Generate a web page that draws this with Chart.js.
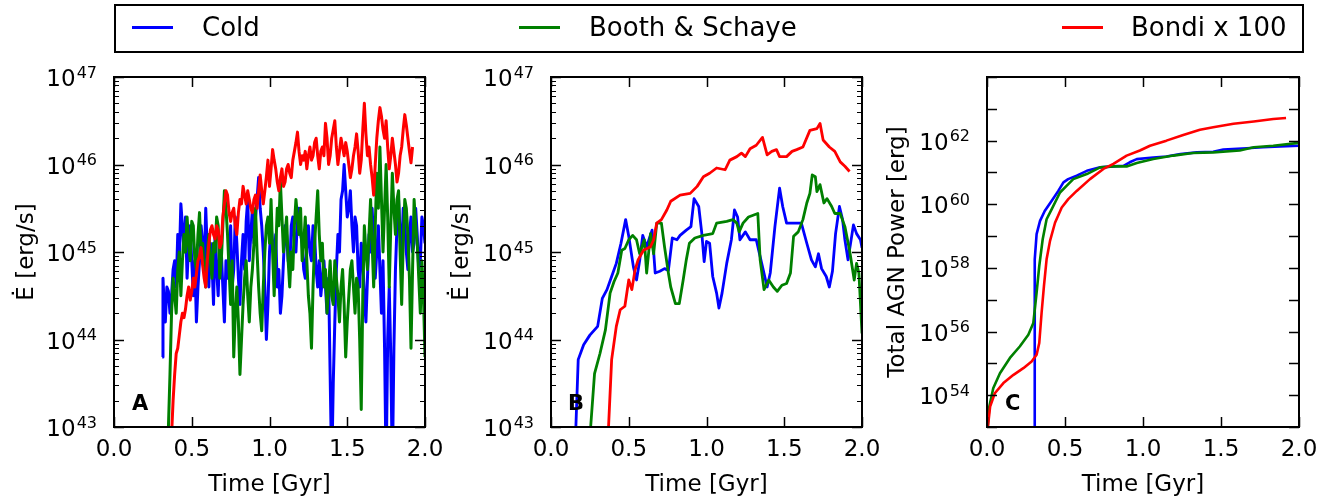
<!DOCTYPE html>
<html>
<head>
<meta charset="utf-8">
<script src="https://cdn.jsdelivr.net/npm/chart.js@4.4.0/dist/chart.umd.min.js"></script>
<style>
  body { margin: 0; background: #fff; width: 1332px; height: 497px; position: relative; overflow: hidden; font-family: "DejaVu Sans", sans-serif; }
  canvas { position: absolute; top: 0; }
  #legend { position: absolute; left: 114px; top: 4px; width: 1190px; height: 49px; border: 2px solid #000; box-sizing: border-box; }
  .sw { position: absolute; top: 26px; width: 41px; height: 3px; }
  .lt { position: absolute; top: 14px; font-size: 26px; line-height: 1; color: #000; white-space: nowrap; }
</style>
</head>
<body>
<div id="legend"></div>
<canvas id="cA" width="455" height="497" style="left:0px"></canvas>
<canvas id="cB" width="452" height="497" style="left:440px"></canvas>
<canvas id="cC" width="452" height="497" style="left:880px"></canvas>
<script>
const FONT = '"DejaVu Sans", sans-serif';

// legend / series
const seriesNames = ['Cold', 'Booth & Schaye', 'Bondi x 100'];
const seriesColors = ['#0000ff', '#008000', '#ff0000'];
const legendLineX = [132, 519, 1062];
const legendTextX = [202, 589, 1131];

// axes
const xTickVals = [0, 0.5, 1.0, 1.5, 2.0];
const yLabelExpE = [43, 44, 45, 46, 47];
const yLabelExpC = [54, 56, 58, 60, 62];
const panelLetters = ['A', 'B', 'C'];

// data: [time in Gyr, log10 value]
// panel A - E dot [erg/s]
const coldA = [[0.31,43.8],[0.315,44.7],[0.32,44.5],[0.33,44.2],[0.34,44.6],[0.35,44.55],[0.36,44.3],[0.37,44.5],[0.38,44.8],[0.39,44.9],
  [0.40,44.6],[0.41,45.2],[0.42,44.9],[0.43,45.55],[0.44,45.3],[0.45,45.0],[0.46,45.4],[0.47,44.7],[0.48,45.1],[0.49,45.3],
  [0.50,44.9],[0.51,44.5],[0.52,44.9],[0.53,44.2],[0.54,44.6],[0.55,44.9],[0.56,45.3],[0.57,45.1],[0.58,44.8],[0.59,45.5],
  [0.60,45.0],[0.61,44.6],[0.62,45.1],[0.63,44.9],[0.64,44.4],[0.65,45.2],[0.66,44.8],[0.67,44.5],[0.68,45.1],[0.69,45.0],
  [0.70,44.6],[0.71,44.2],[0.72,44.9],[0.73,44.7],[0.74,45.0],[0.75,45.3],[0.76,44.6],[0.77,44.8],[0.78,45.4],[0.79,45.1],
  [0.80,44.7],[0.81,44.4],[0.82,44.9],[0.83,45.2],[0.84,44.8],[0.85,45.35],[0.86,45.6],[0.87,44.9],[0.88,45.2],[0.89,45.5],
  [0.90,45.1],[0.91,45.4],[0.92,45.6],[0.93,45.85],[0.94,45.5],[0.95,45.3],[0.96,45.0],[0.97,44.6],[0.98,44.0],[0.99,44.4],
  [1.00,45.0],[1.01,45.3],[1.02,45.1],[1.03,44.9],[1.04,45.2],[1.05,44.6],[1.06,44.8],[1.07,44.3],[1.08,44.5],[1.09,44.9],
  [1.10,45.3],[1.11,45.2],[1.12,44.9],[1.13,44.8],[1.14,45.3],[1.15,45.4],[1.16,45.1],[1.17,45.0],[1.18,45.4],[1.19,45.5],
  [1.20,45.2],[1.21,45.1],[1.22,44.8],[1.23,44.7],[1.24,45.1],[1.25,45.3],[1.26,45.0],[1.27,44.9],[1.28,45.3],[1.29,45.2],
  [1.30,44.8],[1.31,44.6],[1.32,44.9],[1.33,44.5],[1.34,44.7],[1.35,44.9],[1.36,44.6],[1.37,44.3],[1.38,44.7],[1.39,43.6],
  [1.40,42.5],[1.41,43.5],[1.42,44.2],[1.43,44.8],[1.44,45.2],[1.45,45.0],[1.46,45.6],[1.47,45.7],[1.48,46.0],[1.49,45.7],
  [1.50,45.4],[1.51,45.5],[1.52,45.7],[1.53,45.3],[1.54,45.0],[1.55,45.4],[1.56,45.3],[1.57,44.8],[1.58,44.6],[1.59,45.1],
  [1.60,44.9],[1.61,44.5],[1.62,44.2],[1.63,44.7],[1.64,45.2],[1.65,45.0],[1.66,45.5],[1.67,45.1],[1.68,44.7],[1.69,45.0],
  [1.70,45.3],[1.71,44.8],[1.72,44.3],[1.73,44.9],[1.74,43.9],[1.75,42.5],[1.76,44.0],[1.77,44.6],[1.78,43.8],[1.79,42.5],
  [1.80,43.9],[1.81,44.8],[1.82,45.3],[1.83,45.6],[1.84,45.2],[1.85,45.0],[1.86,45.5],[1.87,45.35],[1.88,45.0],[1.89,44.8],
  [1.90,45.2],[1.91,45.4],[1.92,45.0],[1.93,45.1],[1.94,45.5],[1.95,45.2],[1.96,44.8],[1.97,44.9],[1.98,45.4],[1.99,45.3],[2.0,45.1]];
const boothA = [[0.34,42.5],[0.35,43.0],[0.36,43.6],[0.37,44.3],[0.38,44.7],[0.39,44.5],[0.40,44.3],[0.41,44.8],[0.42,45.0],[0.43,44.5],
  [0.44,44.9],[0.45,45.2],[0.46,45.0],[0.47,45.4],[0.48,45.1],[0.49,44.9],[0.50,45.35],[0.51,45.3],[0.52,44.9],[0.53,44.8],
  [0.54,45.2],[0.55,45.45],[0.56,45.0],[0.57,45.1],[0.58,44.8],[0.59,44.6],[0.60,45.0],[0.61,45.2],[0.62,44.9],[0.63,44.7],
  [0.64,45.1],[0.65,45.0],[0.66,45.4],[0.67,45.3],[0.68,44.7],[0.69,44.9],[0.70,45.3],[0.71,45.7],[0.72,45.5],[0.73,45.2],
  [0.74,44.8],[0.75,44.4],[0.76,44.9],[0.77,43.8],[0.78,44.3],[0.79,44.6],[0.80,44.2],[0.81,43.6],[0.82,44.0],[0.83,44.4],
  [0.84,44.7],[0.85,44.9],[0.86,44.5],[0.87,44.2],[0.88,44.6],[0.89,44.8],[0.90,45.1],[0.91,45.5],[0.92,45.0],[0.93,44.6],
  [0.94,44.3],[0.95,44.1],[0.96,44.6],[0.97,45.0],[0.98,45.3],[0.99,45.4],[1.00,45.1],[1.01,45.6],[1.02,45.0],[1.03,44.5],
  [1.04,45.0],[1.05,45.5],[1.06,45.3],[1.07,45.8],[1.08,45.4],[1.09,45.0],[1.10,45.2],[1.11,45.4],[1.12,44.9],[1.13,44.6],
  [1.14,45.0],[1.15,44.8],[1.16,45.3],[1.17,45.6],[1.18,45.4],[1.19,45.2],[1.20,45.5],[1.21,44.9],[1.22,45.1],[1.23,45.4],
  [1.24,44.9],[1.25,44.5],[1.26,44.3],[1.27,43.9],[1.28,44.6],[1.29,45.1],[1.30,45.4],[1.31,45.7],[1.32,45.2],[1.33,44.9],
  [1.34,45.1],[1.35,44.6],[1.36,44.8],[1.37,44.3],[1.38,44.6],[1.39,44.9],[1.40,44.5],[1.41,44.4],[1.42,44.9],[1.43,44.7],
  [1.44,44.5],[1.45,44.2],[1.46,44.6],[1.47,44.8],[1.48,44.4],[1.49,43.8],[1.50,44.2],[1.51,44.5],[1.52,44.8],[1.53,44.9],
  [1.54,44.6],[1.55,44.3],[1.56,44.7],[1.57,44.6],[1.58,44.0],[1.59,43.2],[1.60,44.5],[1.61,45.3],[1.62,45.0],[1.63,44.8],
  [1.64,45.2],[1.65,45.6],[1.66,45.1],[1.67,44.6],[1.68,45.3],[1.69,45.9],[1.70,45.5],[1.71,46.2],[1.72,45.6],[1.73,45.0],
  [1.74,45.5],[1.75,46.0],[1.76,45.4],[1.77,44.6],[1.78,45.3],[1.79,45.9],[1.80,45.5],[1.81,45.2],[1.82,45.6],[1.83,45.7],
  [1.84,45.0],[1.85,44.4],[1.86,45.1],[1.87,45.6],[1.88,45.5],[1.89,45.2],[1.90,44.7],[1.91,43.9],[1.92,44.8],[1.93,45.6],
  [1.94,45.3],[1.95,45.1],[1.96,44.7],[1.97,44.3],[1.98,44.9],[1.99,44.5],[2.0,43.8]];
const bondiA = [[0.37,42.9],[0.38,43.3],[0.39,43.6],[0.40,43.84],[0.41,43.9],[0.42,44.05],[0.43,44.2],[0.44,44.3],[0.45,44.25],[0.46,44.35],
  [0.47,44.5],[0.48,44.6],[0.49,44.45],[0.50,44.55],[0.51,44.7],[0.52,44.6],[0.53,44.75],[0.54,44.9],[0.55,44.95],[0.56,45.05],
  [0.57,44.85],[0.58,44.7],[0.59,44.6],[0.60,44.9],[0.61,45.1],[0.62,45.25],[0.63,45.3],[0.64,45.2],[0.65,45.15],[0.66,45.3],
  [0.67,45.25],[0.68,45.05],[0.69,45.1],[0.70,45.4],[0.71,45.55],[0.72,45.7],[0.73,45.65],[0.74,45.45],[0.75,45.35],[0.76,45.45],
  [0.77,45.5],[0.78,45.3],[0.79,45.2],[0.80,45.45],[0.81,45.6],[0.82,45.55],[0.83,45.75],[0.84,45.65],[0.85,45.55],[0.86,45.7],
  [0.87,45.6],[0.88,45.5],[0.89,45.45],[0.90,45.6],[0.91,45.65],[0.92,45.5],[0.93,45.7],[0.94,45.88],[0.95,45.7],[0.96,45.55],
  [0.97,45.7],[0.98,45.86],[0.99,46.05],[1.00,45.75],[1.01,45.95],[1.02,46.17],[1.03,46.05],[1.04,45.95],[1.05,45.8],[1.06,45.7],
  [1.07,45.85],[1.08,45.95],[1.09,45.75],[1.10,45.8],[1.11,45.95],[1.12,46.0],[1.13,45.9],[1.14,45.85],[1.15,46.05],[1.16,46.15],
  [1.17,46.25],[1.18,46.37],[1.19,46.15],[1.20,46.0],[1.21,46.1],[1.22,46.05],[1.23,46.15],[1.24,45.95],[1.25,46.1],[1.26,46.2],
  [1.27,46.05],[1.28,46.1],[1.29,46.25],[1.30,46.3],[1.31,46.1],[1.32,45.95],[1.33,46.15],[1.34,46.2],[1.35,46.1],[1.36,46.47],
  [1.37,46.3],[1.38,46.0],[1.39,46.1],[1.40,46.3],[1.41,46.4],[1.42,46.5],[1.43,46.2],[1.44,46.0],[1.45,46.15],[1.46,46.3],
  [1.47,46.2],[1.48,46.1],[1.49,46.25],[1.50,46.15],[1.51,46.0],[1.52,45.85],[1.53,45.95],[1.54,46.1],[1.55,46.2],[1.56,46.35],
  [1.57,46.15],[1.58,45.9],[1.59,46.05],[1.60,46.4],[1.61,46.7],[1.62,46.35],[1.63,46.1],[1.64,46.2],[1.65,46.0],[1.66,45.85],
  [1.67,45.65],[1.68,46.0],[1.69,46.3],[1.70,46.5],[1.71,46.65],[1.72,46.55],[1.73,46.4],[1.74,46.3],[1.75,46.5],[1.76,46.2],
  [1.77,45.95],[1.78,46.1],[1.79,46.3],[1.80,46.15],[1.81,46.0],[1.82,45.8],[1.83,45.9],[1.84,46.1],[1.85,46.2],[1.86,46.4],
  [1.87,46.57],[1.88,46.45],[1.89,46.3],[1.90,46.15],[1.91,46.02],[1.92,46.2]];

// panel B - E dot [erg/s]
const coldB = [[0.16,43.0],[0.175,43.77],[0.21,43.94],[0.25,44.05],[0.30,44.15],[0.33,44.47],[0.36,44.57],[0.39,44.72],[0.42,44.87],[0.45,45.1],
  [0.48,45.37],[0.50,45.18],[0.53,44.83],[0.55,44.68],[0.57,44.9],[0.59,45.19],[0.615,45.06],[0.65,45.25],[0.67,44.76],[0.70,44.78],
  [0.73,44.81],[0.755,44.79],[0.78,45.16],[0.81,45.14],[0.83,45.19],[0.87,45.25],[0.90,45.29],[0.92,45.61],[0.95,45.52],[0.97,45.21],
  [0.985,44.89],[1.0,45.12],[1.02,45.1],[1.04,44.72],[1.065,44.53],[1.08,44.36],[1.10,44.53],[1.13,44.87],[1.16,45.14],[1.18,45.48],
  [1.20,45.4],[1.215,45.14],[1.25,45.23],[1.28,45.14],[1.32,45.14],[1.355,44.87],[1.39,44.6],[1.41,44.76],[1.44,45.29],[1.47,45.73],
  [1.49,45.52],[1.515,45.33],[1.56,45.33],[1.61,45.33],[1.645,45.1],[1.675,44.91],[1.70,44.83],[1.72,44.98],[1.74,44.81],[1.77,44.72],
  [1.79,44.6],[1.81,44.78],[1.83,45.21],[1.855,45.52],[1.875,45.37],[1.89,45.14],[1.91,44.91],[1.945,45.31],[1.965,45.21],[1.99,45.14],[2.0,45.05]];
const boothB = [[0.255,43.0],[0.28,43.61],[0.315,43.84],[0.35,44.11],[0.38,44.53],[0.405,44.66],[0.43,44.76],[0.455,45.02],[0.475,45.04],[0.50,45.14],
  [0.525,45.19],[0.55,45.14],[0.57,44.98],[0.60,45.14],[0.615,44.76],[0.64,45.21],[0.66,44.98],[0.68,45.33],[0.71,45.33],[0.73,45.06],
  [0.755,44.76],[0.77,44.6],[0.80,44.41],[0.825,44.41],[0.85,44.68],[0.87,44.91],[0.89,45.1],[0.925,45.16],[0.98,45.19],[1.04,45.21],
  [1.065,45.33],[1.13,45.35],[1.17,45.37],[1.195,45.33],[1.21,45.23],[1.235,45.33],[1.27,45.4],[1.30,45.42],[1.33,45.44],[1.345,44.91],
  [1.37,44.57],[1.40,44.68],[1.43,44.6],[1.455,44.55],[1.485,44.62],[1.515,44.64],[1.54,44.76],[1.56,45.18],[1.59,45.23],[1.62,45.37],
  [1.645,45.56],[1.665,45.67],[1.68,45.88],[1.70,45.86],[1.71,45.69],[1.73,45.77],[1.755,45.56],[1.775,45.61],[1.805,45.52],[1.825,45.44],
  [1.86,45.44],[1.89,45.29],[1.92,45.02],[1.95,44.68],[1.965,44.87],[1.98,44.76],[2.0,44.07]];
const bondiB = [[0.37,43.0],[0.39,43.77],[0.42,44.15],[0.445,44.34],[0.475,44.38],[0.50,44.68],[0.52,44.57],[0.54,44.79],[0.56,44.91],[0.595,45.02],
  [0.64,45.06],[0.66,45.14],[0.68,45.33],[0.71,45.37],[0.745,45.48],[0.77,45.58],[0.83,45.65],[0.895,45.67],[0.94,45.75],[0.98,45.86],
  [1.02,45.9],[1.065,45.96],[1.12,45.94],[1.15,46.05],[1.195,46.09],[1.225,46.13],[1.25,46.09],[1.28,46.18],[1.32,46.22],[1.36,46.31],
  [1.39,46.11],[1.42,46.15],[1.45,46.17],[1.47,46.09],[1.515,46.09],[1.55,46.15],[1.58,46.17],[1.62,46.2],[1.665,46.39],[1.71,46.41],
  [1.73,46.47],[1.75,46.28],[1.79,46.2],[1.825,46.15],[1.86,46.03],[1.89,45.98],[1.92,45.92]];

// panel C - total AGN power [erg]
const coldC = [[0.303,52.0],[0.306,58.27],[0.318,59.06],[0.34,59.48],[0.37,59.79],[0.415,60.11],[0.457,60.42],[0.49,60.69],[0.52,60.79],[0.575,60.9],
  [0.64,61.05],[0.725,61.16],[0.81,61.19],[0.875,61.21],[0.915,61.32],[0.96,61.42],[1.066,61.47],[1.15,61.5],[1.24,61.58],[1.345,61.63],
  [1.45,61.65],[1.515,61.72],[1.665,61.76],[1.77,61.79],[1.88,61.82],[2.0,61.84]];
const boothC = [[0.001,52.8],[0.015,53.64],[0.04,54.22],[0.083,54.69],[0.147,55.17],[0.21,55.53],[0.265,55.9],[0.297,56.27],[0.318,57.22],[0.335,58.06],
  [0.357,58.9],[0.382,59.53],[0.415,59.85],[0.468,60.37],[0.51,60.58],[0.553,60.79],[0.64,60.95],[0.725,61.16],[0.81,61.19],[0.895,61.19],
  [0.96,61.3],[1.066,61.42],[1.195,61.53],[1.32,61.61],[1.45,61.63],[1.62,61.69],[1.71,61.79],[1.835,61.84],[2.0,61.93]];
const bondiC = [[0.001,52.8],[0.02,53.64],[0.05,54.06],[0.105,54.38],[0.17,54.64],[0.233,54.85],[0.286,55.06],[0.318,55.27],[0.335,55.64],[0.35,56.59],
  [0.365,57.43],[0.382,58.27],[0.404,58.85],[0.436,59.42],[0.479,59.9],[0.521,60.16],[0.575,60.42],[0.66,60.79],[0.746,61.11],[0.81,61.27],
  [0.895,61.53],[0.98,61.69],[1.045,61.84],[1.15,62.0],[1.258,62.18],[1.365,62.34],[1.45,62.42],[1.58,62.53],[1.71,62.6],[1.835,62.68],[1.917,62.71]];

// legend (html)
seriesNames.forEach((name, i) => {
  const sw = document.createElement('div');
  sw.className = 'sw';
  sw.style.left = legendLineX[i] + 'px';
  sw.style.background = seriesColors[i];
  document.body.appendChild(sw);
  const lt = document.createElement('div');
  lt.className = 'lt';
  lt.style.left = legendTextX[i] + 'px';
  lt.textContent = name;
  document.body.appendChild(lt);
});

const toPoints = arr => arr.map(([t, lg]) => ({ x: t, y: Math.pow(10, lg) }));

function line(ctx, x1, y1, x2, y2) {
  ctx.beginPath();
  ctx.moveTo(x1, y1);
  ctx.lineTo(x2, y2);
  ctx.stroke();
}

// matplotlib-ish frame: inward ticks on all sides, 10^n labels, panel letter
const framePlugin = {
  id: 'frame',
  afterDatasetsDraw(chart, args, o) {
    const { ctx, chartArea: a, scales: { x, y } } = chart;
    ctx.save();
    ctx.strokeStyle = '#000';
    ctx.lineWidth = 1.5;
    for (const v of xTickVals) {
      const px = Math.round(x.getPixelForValue(v)) + 0.5;
      line(ctx, px, a.bottom, px, a.bottom - 10);
      line(ctx, px, a.top, px, a.top + 10);
    }
    const e0 = Math.round(Math.log10(y.min));
    const e1 = Math.round(Math.log10(y.max));
    for (let e = e0; e <= e1; e++) {
      const py = Math.round(y.getPixelForValue(Math.pow(10, e))) + 0.5;
      line(ctx, a.left, py, a.left + 10, py);
      line(ctx, a.right, py, a.right - 10, py);
      if (o.minor && e < e1) {
        ctx.lineWidth = 1;
        for (let m = 2; m <= 9; m++) {
          const pm = Math.round(y.getPixelForValue(m * Math.pow(10, e))) + 0.5;
          line(ctx, a.left, pm, a.left + 5, pm);
          line(ctx, a.right, pm, a.right - 5, pm);
        }
        ctx.lineWidth = 1.5;
      }
    }
    // y tick labels 10^n
    ctx.fillStyle = '#000';
    ctx.textAlign = 'right';
    ctx.textBaseline = 'alphabetic';
    for (const e of o.labels) {
      const py = y.getPixelForValue(Math.pow(10, e));
      const xr = a.left - 17;
      ctx.font = '16px ' + FONT;
      const ew = ctx.measureText(String(e)).width;
      ctx.fillText(String(e), xr, py + 0.5);
      ctx.font = '23px ' + FONT;
      ctx.fillText('10', xr - ew - 1, py + 9);
    }
    // frame
    ctx.lineWidth = 2;
    ctx.strokeRect(a.left, a.top, a.right - a.left, a.bottom - a.top);
    // panel letter
    ctx.textAlign = 'left';
    ctx.font = 'bold 21px ' + FONT;
    ctx.fillText(o.letter, a.left + o.letterDx, 410);
    ctx.restore();
  }
};

function panel(id, cfg) {
  return new Chart(document.getElementById(id), {
    type: 'line',
    data: {
      datasets: cfg.series.map((s, i) => ({
        label: seriesNames[i],
        data: toPoints(s),
        borderColor: seriesColors[i],
        borderWidth: cfg.lw,
        pointRadius: 0,
        tension: 0,
        fill: false,
        order: 2 - i,
        borderJoinStyle: 'round'
      }))
    },
    options: {
      responsive: false,
      animation: false,
      devicePixelRatio: 1,
      layout: { padding: { top: 77, right: cfg.padRight, left: 0, bottom: 0 } },
      plugins: {
        legend: { display: false },
        tooltip: { enabled: false },
        frame: { labels: cfg.yLabels, minor: cfg.minor, letter: cfg.letter, letterDx: cfg.letterDx }
      },
      scales: {
        x: {
          type: 'linear', min: 0, max: 2,
          grid: { display: false, drawTicks: false },
          border: { display: false },
          ticks: {
            stepSize: 0.5, padding: 9, color: '#000', maxRotation: 0, autoSkip: false,
            font: { size: 23, family: FONT },
            callback: v => v.toFixed(1)
          },
          title: {
            display: true, text: 'Time [Gyr]', color: '#000',
            font: { size: 23, family: FONT, lineHeight: 1 },
            padding: { top: 0, bottom: 0 }
          },
          afterFit: s => { s.height = 70; }
        },
        y: {
          type: 'logarithmic', min: cfg.yMin, max: cfg.yMax,
          grid: { display: false, drawTicks: false },
          border: { display: false },
          ticks: { display: false },
          title: {
            display: true, text: cfg.yTitle, color: '#000',
            font: { size: 23, family: FONT, lineHeight: 1 },
            padding: { top: cfg.titlePad, bottom: 0 }
          },
          afterFit: s => { s.width = cfg.axisW; }
        }
      }
    },
    plugins: [framePlugin]
  });
}

panel('cA', {
  series: [coldA, boothA, bondiA], lw: 3, padRight: 30, axisW: 114,
  yMin: 1e43, yMax: 1e47, yTitle: 'Ė [erg/s]', titlePad: 16,
  yLabels: yLabelExpE, minor: true, letter: panelLetters[0], letterDx: 18
});
panel('cB', {
  series: [coldB, boothB, bondiB], lw: 2.8, padRight: 30, axisW: 111,
  yMin: 1e43, yMax: 1e47, yTitle: 'Ė [erg/s]', titlePad: 11,
  yLabels: yLabelExpE, minor: true, letter: panelLetters[1], letterDx: 17
});
panel('cC', {
  series: [coldC, boothC, bondiC], lw: 2.6, padRight: 33, axisW: 107,
  yMin: 1e53, yMax: 1e64, yTitle: 'Total AGN Power [erg]', titlePad: 7,
  yLabels: yLabelExpC, minor: false, letter: panelLetters[2], letterDx: 18
});
</script>
</body>
</html>
